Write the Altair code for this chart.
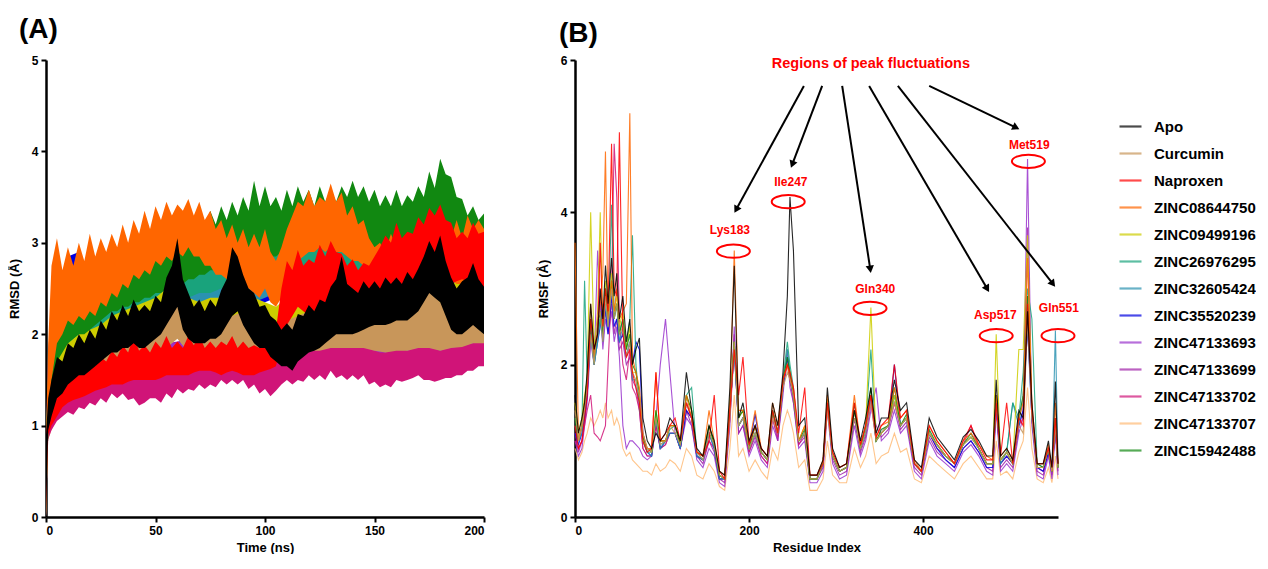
import math
import altair as alt
import pandas as pd

# ---------------- series names / colours ----------------
NAMES = ["Apo", "Curcumin", "Naproxen", "ZINC08644750", "ZINC09499196", "ZINC26976295",
         "ZINC32605424", "ZINC35520239", "ZINC47133693", "ZINC47133699", "ZINC47133702",
         "ZINC47133707", "ZINC15942488"]
COLORS = ["#000000", "#C8965A", "#FF0000", "#FF6600", "#CCCC00", "#19A37C",
          "#2A92B0", "#0000E0", "#9933CC", "#A020A8", "#D01478", "#FFBB77", "#118811"]

# ---------------- (A) RMSD: lower / upper envelope of each trace ----------------
# coarse time grid (5 ns) for the mostly hidden traces
T = [0, 1, 2.5, 5, 10, 15, 20, 25, 30, 35, 40, 45, 50, 55, 60, 65, 70, 75, 80, 85, 90, 95, 100,
     105, 110, 115, 120, 125, 130, 135, 140, 145, 150, 155, 160, 165, 170, 175, 180, 185, 190, 195, 200]
# fine time grid (2.5 ns) for the traces whose edges are visible
T2 = [0, 1, 2.5, 5, 7.5, 10, 12.5, 15, 17.5, 20, 22.5, 25, 27.5, 30, 32.5, 35, 37.5, 40, 42.5, 45, 47.5,
      50, 52.5, 55, 57.5, 60, 62.5, 65, 67.5, 70, 72.5, 75, 77.5, 80, 82.5, 85, 87.5, 90, 92.5, 95, 97.5,
      100, 102.5, 105, 107.5, 110, 112.5, 115, 117.5, 120, 122.5, 125, 127.5, 130, 132.5, 135, 137.5, 140, 142.5, 145, 147.5,
      150, 152.5, 155, 157.5, 160, 162.5, 165, 167.5, 170, 172.5, 175, 177.5, 180, 182.5, 185, 187.5, 190, 192.5, 195, 197.5, 200]

ORANGE_LO = [0, 1.0, 1.5, 1.9, 2.0, 2.15, 2.1, 2.2, 2.15, 2.25, 2.2, 2.35, 2.3, 2.45, 2.4, 2.55, 2.5, 2.65, 2.6, 2.7, 2.65,
             2.8, 2.75, 2.85, 2.8, 2.9, 2.85, 2.95, 2.85, 2.85, 2.75, 2.75, 2.65, 2.65, 2.6, 2.7, 2.6, 2.55, 2.5, 2.45, 2.4,
             2.5, 2.35, 2.3, 2.4, 2.6, 2.7, 2.8, 2.85, 2.9, 2.9, 2.95, 2.9, 2.95, 2.9, 2.9, 2.85, 2.8, 2.8, 2.75, 2.6,
             2.5, 2.5, 2.5, 2.55, 2.55, 2.5, 2.5, 2.55, 2.55, 2.5, 2.5, 2.55, 2.5, 2.6, 2.6, 2.55, 2.55, 2.6, 2.6, 2.55, 2.55]
ORANGE_HI = [0.9, 1.9, 2.75, 3.05, 2.7, 2.95, 2.75, 3.0, 2.8, 3.1, 2.85, 3.05, 2.9, 3.1, 2.95, 3.2, 3.0, 3.25, 3.1, 3.35, 3.15,
             3.4, 3.25, 3.45, 3.3, 3.42, 3.35, 3.48, 3.3, 3.45, 3.25, 3.35, 3.15, 3.25, 3.05, 3.2, 3.0, 3.15, 2.95, 3.1, 2.95,
             3.15, 2.9, 2.8, 2.95, 3.15, 3.3, 3.45, 3.4, 3.58, 3.4, 3.5, 3.45, 3.65, 3.45, 3.55, 3.3, 3.4, 3.2, 3.25, 3.05,
             2.95, 3.0, 2.9, 3.1, 2.95, 3.05, 2.9, 3.1, 2.95, 3.1, 3.0, 3.15, 2.95, 3.2, 3.05, 3.25, 3.05, 3.3, 3.15, 3.25, 3.15]
GREEN_LO = [0, 0.9, 1.4, 1.7, 1.8, 1.9, 1.95, 2.0, 2.0, 2.05, 2.1, 2.15, 2.2, 2.25, 2.25, 2.3, 2.3, 2.35, 2.35, 2.4, 2.4,
            2.45, 2.45, 2.5, 2.5, 2.55, 2.55, 2.6, 2.6, 2.65, 2.65, 2.7, 2.7, 2.75, 2.75, 2.8, 2.8, 2.8, 2.85, 2.85, 2.9,
            2.9, 2.85, 2.85, 2.9, 2.95, 3.0, 3.0, 2.95, 2.95, 3.0, 3.0, 2.95, 2.95, 3.0, 3.0, 3.05, 3.05, 3.0, 3.0, 2.95,
            2.95, 2.9, 2.9, 2.95, 2.95, 2.9, 2.9, 2.95, 3.0, 3.05, 3.1, 3.1, 3.15, 3.1, 3.05, 3.0, 2.95, 2.9, 2.9, 2.85, 2.85]
GREEN_HI = [0.9, 1.6, 2.0, 2.3, 2.35, 2.45, 2.4, 2.5, 2.45, 2.55, 2.6, 2.7, 2.65, 2.8, 2.75, 2.85, 2.8, 2.9, 2.85, 2.95, 2.9,
            3.05, 2.95, 3.1, 3.0, 3.15, 3.05, 3.2, 3.1, 3.25, 3.15, 3.35, 3.2, 3.4, 3.25, 3.45, 3.3, 3.5, 3.35, 3.68, 3.4,
            3.62, 3.4, 3.5, 3.35, 3.58, 3.4, 3.62, 3.45, 3.58, 3.4, 3.62, 3.45, 3.58, 3.45, 3.62, 3.5, 3.68, 3.5, 3.62, 3.45,
            3.58, 3.4, 3.52, 3.4, 3.58, 3.4, 3.52, 3.45, 3.62, 3.5, 3.78, 3.6, 3.92, 3.75, 3.72, 3.5, 3.48, 3.3, 3.4, 3.25, 3.32]
APO_LO = [0, 0.95, 1.1, 1.3, 1.35, 1.45, 1.5, 1.55, 1.55, 1.6, 1.65, 1.7, 1.75, 1.8, 1.8, 1.85, 1.85, 1.9, 1.85, 1.85, 1.9,
          1.95, 2.0, 2.1, 2.2, 2.3, 2.05, 1.95, 1.9, 1.9, 1.9, 1.95, 1.95, 2.0, 2.1, 2.2, 2.25, 2.1, 2.0, 1.9, 1.85,
          1.85, 1.75, 1.7, 1.65, 1.65, 1.6, 1.7, 1.75, 1.8, 1.82, 1.85, 1.9, 1.95, 2.0, 2.0, 2.0, 2.0, 2.02, 2.05, 2.08,
          2.1, 2.1, 2.1, 2.12, 2.15, 2.15, 2.15, 2.2, 2.25, 2.35, 2.45, 2.4, 2.35, 2.2, 2.05, 2.0, 2.0, 2.05, 2.1, 2.05, 2.0]
APO_HI = [0.9, 1.3, 1.5, 1.75, 1.7, 1.9, 1.85, 2.0, 1.9, 2.05, 1.95, 2.15, 2.05, 2.25, 2.15, 2.32, 2.2, 2.38, 2.25, 2.32, 2.25,
          2.42, 2.35, 2.62, 2.75, 3.05, 2.6, 2.45, 2.3, 2.38, 2.25, 2.38, 2.3, 2.48, 2.6, 2.95, 2.85, 2.65, 2.5, 2.45, 2.3,
          2.32, 2.2, 2.15, 2.05, 2.12, 2.05, 2.22, 2.2, 2.32, 2.25, 2.38, 2.35, 2.52, 2.6, 2.85, 2.55, 2.5, 2.45, 2.58, 2.5,
          2.58, 2.5, 2.62, 2.55, 2.62, 2.55, 2.68, 2.6, 2.72, 2.85, 3.02, 2.9, 3.08, 2.8, 2.62, 2.5, 2.58, 2.62, 2.78, 2.6, 2.52]
RED_LO = [0, 0.9, 1.0, 1.1, 1.2, 1.25, 1.28, 1.3, 1.32, 1.35, 1.38, 1.4, 1.42, 1.45, 1.45, 1.45, 1.48, 1.5, 1.5, 1.5, 1.5,
          1.5, 1.52, 1.55, 1.55, 1.55, 1.55, 1.55, 1.58, 1.6, 1.6, 1.6, 1.58, 1.55, 1.58, 1.6, 1.58, 1.55, 1.55, 1.55, 1.58,
          1.6, 1.62, 1.65, 1.9, 2.1, 2.2, 2.3, 2.25, 2.2, 2.25, 2.3, 2.28, 2.25, 2.3, 2.3, 2.32, 2.35, 2.32, 2.3, 2.35,
          2.4, 2.45, 2.5, 2.52, 2.55, 2.52, 2.5, 2.52, 2.55, 2.58, 2.6, 2.6, 2.6, 2.58, 2.55, 2.58, 2.6, 2.58, 2.55, 2.52, 2.5]
RED_HI = [0.9, 1.15, 1.3, 1.45, 1.5, 1.6, 1.55, 1.65, 1.6, 1.72, 1.65, 1.75, 1.7, 1.82, 1.75, 1.88, 1.8, 1.98, 1.82, 1.88, 1.8,
          1.92, 1.85, 1.98, 1.85, 1.92, 1.85, 1.98, 1.88, 1.98, 1.85, 1.92, 1.85, 1.92, 1.88, 1.98, 1.85, 1.92, 1.85, 1.88, 1.85,
          1.92, 1.9, 2.05, 2.5, 2.8, 2.7, 2.92, 2.75, 2.82, 2.78, 2.98, 2.85, 3.02, 2.9, 2.88, 2.75, 2.82, 2.7, 2.78, 2.75,
          2.85, 2.95, 3.08, 3.0, 3.22, 3.05, 3.12, 3.1, 3.28, 3.2, 3.38, 3.3, 3.42, 3.25, 3.22, 3.05, 3.12, 3.05, 3.22, 3.1, 3.12]
PINK_LO = [0, 0.85, 0.95, 1.05, 1.1, 1.15, 1.12, 1.2, 1.18, 1.25, 1.22, 1.3, 1.25, 1.35, 1.3, 1.35, 1.28, 1.3, 1.22, 1.25, 1.3,
           1.3, 1.25, 1.35, 1.3, 1.4, 1.35, 1.4, 1.38, 1.45, 1.4, 1.45, 1.42, 1.5, 1.45, 1.5, 1.45, 1.5, 1.4, 1.45, 1.35,
           1.4, 1.32, 1.38, 1.45, 1.5, 1.45, 1.5, 1.48, 1.55, 1.5, 1.55, 1.5, 1.6, 1.52, 1.55, 1.5, 1.55, 1.5, 1.55, 1.45,
           1.48, 1.42, 1.45, 1.42, 1.5, 1.48, 1.5, 1.52, 1.55, 1.5, 1.5, 1.48, 1.5, 1.52, 1.52, 1.55, 1.55, 1.6, 1.6, 1.65, 1.65]
PINK_HI = [0.85, 1.05, 1.2, 1.35, 1.4, 1.45, 1.48, 1.5, 1.52, 1.55, 1.58, 1.6, 1.6, 1.62, 1.65, 1.65, 1.65, 1.65, 1.6, 1.6, 1.62,
           1.65, 1.68, 1.7, 1.7, 1.7, 1.72, 1.75, 1.75, 1.75, 1.76, 1.78, 1.78, 1.8, 1.8, 1.8, 1.82, 1.85, 1.82, 1.8, 1.78,
           1.75, 1.72, 1.72, 1.75, 1.8, 1.8, 1.82, 1.84, 1.85, 1.85, 1.85, 1.86, 1.88, 1.88, 1.9, 1.88, 1.85, 1.86, 1.88, 1.85,
           1.82, 1.8, 1.8, 1.82, 1.85, 1.84, 1.82, 1.84, 1.85, 1.85, 1.85, 1.84, 1.82, 1.84, 1.85, 1.86, 1.88, 1.89, 1.9, 1.92, 1.95]

RMSD = {
    "ZINC08644750": (T2, ORANGE_LO, ORANGE_HI),
    "ZINC15942488": (T2, GREEN_LO, GREEN_HI),
    "Apo": (T2, APO_LO, APO_HI),
    "Naproxen": (T2, RED_LO, RED_HI),
    "ZINC47133702": (T2, PINK_LO, PINK_HI),
    "Curcumin": (T,
                 [0, 0.95, 1.1, 1.25, 1.4, 1.5, 1.55, 1.6, 1.65, 1.7, 1.7, 1.75, 1.8, 1.85, 1.95, 1.8, 1.8, 1.8, 1.8, 1.85, 1.85, 1.8, 1.75,
                  1.72, 1.78, 1.8, 1.82, 1.82, 1.85, 1.85, 1.85, 1.85, 1.82, 1.8, 1.82, 1.82, 1.85, 1.85, 1.82, 1.85, 1.86, 1.9, 1.9],
                 [0.9, 1.2, 1.4, 1.6, 1.75, 1.85, 1.9, 1.95, 2.0, 2.05, 2.1, 2.1, 2.15, 2.3, 2.4, 2.2, 2.15, 2.15, 2.1, 2.2, 2.25, 2.15, 2.1,
                  2.05, 2.15, 2.2, 2.25, 2.2, 2.3, 2.25, 2.3, 2.3, 2.35, 2.3, 2.35, 2.4, 2.5, 2.5, 2.35, 2.3, 2.35, 2.4, 2.3]),
    "ZINC47133693": (T,
                     [0, 0.9, 1.0, 1.1, 1.25, 1.3, 1.35, 1.4, 1.45, 1.5, 1.5, 1.5, 1.55, 1.55, 1.6, 1.6, 1.6, 1.62, 1.6, 1.62, 1.6, 1.6, 1.58,
                      1.6, 1.62, 1.65, 1.65, 1.68, 1.7, 1.68, 1.7, 1.7, 1.68, 1.65, 1.7, 1.7, 1.72, 1.7, 1.68, 1.7, 1.72, 1.75, 1.72],
                     [0.85, 1.1, 1.3, 1.4, 1.55, 1.6, 1.65, 1.7, 1.75, 1.8, 1.85, 1.8, 1.85, 1.9, 1.9, 1.92, 1.9, 1.95, 1.9, 1.95, 1.95, 1.92, 1.9,
                      1.9, 1.95, 1.95, 1.98, 2.0, 2.0, 2.0, 2.02, 2.0, 1.98, 1.95, 2.0, 2.02, 2.05, 2.0, 1.98, 2.0, 2.05, 2.05, 2.02]),
    "ZINC47133699": (T,
                     [0, 0.9, 1.0, 1.15, 1.3, 1.35, 1.4, 1.45, 1.5, 1.5, 1.55, 1.52, 1.55, 1.6, 1.6, 1.62, 1.6, 1.6, 1.62, 1.65, 1.62, 1.6, 1.6,
                      1.58, 1.62, 1.65, 1.68, 1.65, 1.7, 1.7, 1.72, 1.7, 1.68, 1.68, 1.7, 1.72, 1.75, 1.72, 1.7, 1.72, 1.75, 1.75, 1.72],
                     [0.85, 1.15, 1.3, 1.45, 1.6, 1.65, 1.7, 1.75, 1.8, 1.82, 1.85, 1.85, 1.88, 1.9, 1.92, 1.95, 1.92, 1.9, 1.95, 1.98, 1.95, 1.92, 1.9,
                      1.88, 1.92, 1.98, 2.0, 1.98, 2.02, 2.0, 2.05, 2.02, 2.0, 1.98, 2.02, 2.05, 2.05, 2.02, 2.0, 2.02, 2.05, 2.08, 2.05]),
    "ZINC47133707": (T,
                     [0, 0.85, 0.95, 1.1, 1.25, 1.3, 1.35, 1.4, 1.45, 1.45, 1.5, 1.48, 1.5, 1.55, 1.55, 1.58, 1.58, 1.6, 1.6, 1.6, 1.6, 1.58, 1.55,
                      1.55, 1.6, 1.62, 1.65, 1.65, 1.68, 1.65, 1.68, 1.68, 1.65, 1.62, 1.65, 1.68, 1.7, 1.68, 1.65, 1.68, 1.7, 1.72, 1.7],
                     [0.8, 1.1, 1.25, 1.4, 1.55, 1.6, 1.65, 1.7, 1.75, 1.78, 1.8, 1.8, 1.82, 1.85, 1.88, 1.9, 1.9, 1.9, 1.92, 1.92, 1.95, 1.9, 1.88,
                      1.85, 1.9, 1.92, 1.95, 1.95, 1.98, 1.98, 2.0, 1.98, 1.95, 1.95, 1.98, 2.0, 2.0, 1.98, 1.95, 1.98, 2.0, 2.02, 2.0]),
    "ZINC35520239": (T,
                     [0, 1.0, 1.6, 1.9, 2.1, 2.2, 2.15, 2.2, 2.2, 2.2, 2.25, 2.3, 2.3, 2.3, 2.35, 2.3, 2.3, 2.3, 2.3, 2.3, 2.3, 2.25, 2.35,
                      2.4, 2.35, 2.4, 2.35, 2.3, 2.3, 2.3, 2.3, 2.3, 2.3, 2.3, 2.35, 2.35, 2.3, 2.3, 2.35, 2.35, 2.35, 2.35, 2.3],
                     [0.9, 1.8, 2.3, 2.5, 2.85, 2.9, 2.6, 2.6, 2.65, 2.65, 2.7, 2.7, 2.7, 2.75, 2.75, 2.7, 2.7, 2.65, 2.7, 2.7, 2.65, 2.65, 2.65,
                      2.75, 2.7, 2.75, 2.7, 2.65, 2.6, 2.6, 2.6, 2.6, 2.6, 2.6, 2.65, 2.65, 2.6, 2.6, 2.65, 2.7, 2.75, 2.7, 2.6]),
    "ZINC26976295": (T,
                     [0, 0.9, 1.3, 1.6, 1.8, 1.9, 1.95, 2.0, 2.1, 2.2, 2.25, 2.3, 2.35, 2.35, 2.4, 2.4, 2.45, 2.45, 2.5, 2.5, 2.55, 2.6, 2.65,
                      2.6, 2.65, 2.65, 2.6, 2.6, 2.65, 2.7, 2.7, 2.65, 2.6, 2.6, 2.6, 2.6, 2.65, 2.6, 2.6, 2.6, 2.55, 2.6, 2.55],
                     [0.9, 1.6, 2.0, 2.2, 2.3, 2.4, 2.45, 2.5, 2.55, 2.65, 2.7, 2.75, 2.75, 2.8, 2.8, 2.85, 2.85, 2.85, 2.9, 2.9, 2.95, 3.0, 3.05,
                      3.0, 3.05, 3.05, 3.0, 3.0, 3.05, 3.1, 3.05, 3.0, 2.95, 2.95, 2.95, 3.0, 3.05, 3.0, 3.0, 2.95, 2.9, 2.95, 2.9]),
    "ZINC32605424": (T,
                     [0, 0.9, 1.3, 1.5, 1.7, 1.8, 1.9, 1.95, 2.0, 2.1, 2.15, 2.25, 2.3, 2.35, 2.3, 2.25, 2.25, 2.2, 2.25, 2.3, 2.3, 2.35, 2.4,
                      2.45, 2.5, 2.55, 2.6, 2.55, 2.5, 2.45, 2.5, 2.5, 2.45, 2.45, 2.5, 2.45, 2.5, 2.45, 2.5, 2.45, 2.5, 2.45, 2.45],
                     [0.9, 1.5, 1.9, 2.1, 2.2, 2.3, 2.35, 2.4, 2.45, 2.5, 2.6, 2.7, 2.75, 2.8, 2.75, 2.7, 2.65, 2.65, 2.7, 2.7, 2.75, 2.75, 2.8,
                      2.85, 2.9, 2.95, 2.95, 2.9, 2.85, 2.8, 2.85, 2.85, 2.8, 2.8, 2.85, 2.8, 2.85, 2.8, 2.85, 2.8, 2.85, 2.8, 2.75]),
    "ZINC09499196": (T,
                     [0, 0.9, 1.1, 1.3, 1.5, 1.6, 1.65, 1.7, 1.8, 1.85, 1.9, 1.95, 2.0, 2.05, 2.1, 2.0, 2.0, 2.0, 2.05, 2.05, 2.1, 2.05, 2.0,
                      2.0, 2.05, 2.1, 2.1, 2.1, 2.15, 2.1, 2.15, 2.15, 2.2, 2.2, 2.2, 2.2, 2.25, 2.25, 2.2, 2.2, 2.25, 2.2, 2.15],
                     [0.9, 1.3, 1.55, 1.75, 1.9, 2.0, 2.05, 2.1, 2.2, 2.25, 2.3, 2.35, 2.4, 2.5, 2.5, 2.4, 2.35, 2.4, 2.4, 2.45, 2.45, 2.4, 2.35,
                      2.3, 2.4, 2.45, 2.45, 2.45, 2.5, 2.5, 2.5, 2.5, 2.55, 2.55, 2.6, 2.55, 2.6, 2.6, 2.55, 2.55, 2.6, 2.55, 2.5]),
}
ORDER_A = ["ZINC47133707", "ZINC47133699", "ZINC47133693", "ZINC47133702", "ZINC35520239",
           "ZINC32605424", "ZINC26976295", "ZINC09499196", "ZINC15942488", "ZINC08644750",
           "Curcumin", "Naproxen", "Apo"]

# ---------------- (B) RMSF per residue ----------------
RES = [0, 4, 8, 11, 14, 18, 22, 26, 29, 32, 35, 38, 42, 45, 48, 51, 55, 59, 63, 66,
       70, 74, 78, 83, 88, 93, 98, 104, 109, 115, 121, 128, 134, 140, 147, 154, 160, 166, 172, 178,
       183, 188, 193, 200, 207, 214, 221, 227, 233, 239, 244, 247, 251, 257, 264, 270, 278, 285, 290, 296,
       304, 312, 321, 328, 334, 340, 346, 352, 360, 367, 374, 381, 390, 398, 407, 416, 426, 436, 446, 455,
       464, 473, 480, 484, 489, 496, 503, 510, 515, 520, 525, 531, 538, 544, 548, 552, 555]

RMSF = {
    "Apo": [1.6, 1.1, 1.3, 1.5, 1.9, 2.8, 2.2, 2.4, 3.0, 2.6, 3.3, 2.8, 3.4, 2.9, 3.2, 2.6, 2.9, 2.3, 2.6, 2.0,
            2.2, 2.35, 1.3, 1.0, 0.9, 1.1, 1.0, 1.1, 1.3, 1.2, 1.0, 1.9, 1.4, 0.9, 0.8, 1.2, 1.0, 0.6, 0.55, 1.7,
            3.3, 1.3, 1.5, 1.0, 1.2, 0.9, 0.8, 1.5, 1.2, 1.9, 2.9, 4.2, 3.5, 1.2, 1.3, 0.55, 0.55, 0.75, 1.7, 0.9,
            0.65, 0.7, 1.4, 1.0, 1.3, 1.7, 1.1, 1.3, 1.3, 1.8, 1.4, 1.5, 0.75, 0.65, 1.3, 1.05, 0.9, 0.75, 1.05, 1.15,
            1.0, 0.8, 0.8, 1.8, 0.8, 0.9, 0.75, 1.4, 1.3, 2.7, 1.5, 0.7, 0.7, 1.0, 0.65, 1.78, 0.7],
    "Curcumin": [1.4, 1.0, 1.2, 1.4, 1.7, 2.4, 2.0, 2.6, 2.7, 2.3, 2.9, 2.5, 3.0, 2.6, 2.8, 2.4, 2.5, 2.1, 2.3, 1.9,
                 1.8, 1.6, 1.1, 0.9, 0.85, 1.3, 0.95, 1.0, 1.2, 1.1, 0.95, 1.5, 1.3, 0.85, 0.75, 1.1, 0.95, 0.55, 0.5, 1.3,
                 2.3, 1.2, 1.3, 0.9, 1.1, 0.85, 0.75, 1.3, 1.1, 1.7, 1.9, 1.8, 1.6, 1.0, 1.1, 0.5, 0.5, 0.7, 1.4, 0.8,
                 0.6, 0.65, 1.3, 0.9, 1.1, 1.5, 1.0, 1.1, 1.2, 1.5, 1.2, 1.3, 0.7, 0.6, 1.1, 0.95, 0.8, 0.7, 0.95, 1.05,
                 0.9, 0.7, 0.7, 1.5, 0.75, 0.85, 0.7, 1.2, 1.1, 2.6, 1.3, 0.65, 0.65, 0.9, 0.6, 1.2, 0.65],
    "Naproxen": [1.2, 0.9, 1.0, 1.3, 1.6, 2.6, 2.2, 2.4, 3.6, 2.5, 3.0, 2.7, 4.9, 3.0, 2.9, 5.05, 2.4, 2.1, 2.2, 1.9,
                 1.7, 1.5, 1.0, 0.85, 0.9, 1.9, 1.0, 1.1, 1.2, 1.3, 1.0, 1.5, 1.3, 0.85, 0.8, 1.0, 1.6, 0.6, 0.5, 1.4,
                 2.2, 1.6, 2.1, 0.95, 1.2, 0.9, 0.8, 1.4, 1.1, 1.8, 2.0, 1.9, 1.7, 1.1, 1.7, 0.55, 0.55, 0.7, 1.5, 0.85,
                 0.65, 0.7, 1.5, 0.95, 1.2, 1.6, 1.05, 1.2, 1.3, 2.0, 1.3, 1.4, 0.7, 0.6, 1.2, 1.0, 0.85, 0.7, 1.0, 1.2,
                 0.95, 0.75, 0.75, 1.5, 0.8, 1.5, 0.7, 1.3, 1.2, 2.8, 1.4, 0.7, 0.7, 0.9, 0.65, 1.3, 0.7],
    "ZINC08644750": [3.6, 1.0, 1.2, 1.5, 1.8, 2.8, 2.1, 2.5, 2.8, 3.2, 4.8, 2.6, 3.1, 2.7, 3.0, 2.6, 2.7, 2.8, 5.3, 2.1,
                     1.9, 1.7, 1.1, 0.9, 0.9, 1.9, 1.0, 1.0, 1.2, 1.2, 1.0, 1.6, 1.3, 0.85, 0.8, 1.4, 1.0, 0.6, 0.55, 1.5,
                     3.5, 1.4, 1.4, 0.95, 1.4, 0.9, 0.8, 1.5, 1.2, 1.8, 2.0, 1.8, 1.7, 1.0, 1.2, 0.55, 0.55, 0.75, 1.6, 0.85,
                     0.65, 0.7, 1.6, 0.95, 1.2, 1.6, 1.05, 1.2, 1.25, 1.7, 1.3, 1.4, 0.75, 0.6, 1.2, 1.0, 0.85, 0.7, 1.0, 1.1,
                     0.95, 0.8, 0.75, 1.6, 0.8, 0.9, 0.75, 1.3, 1.5, 3.4, 1.5, 0.7, 0.7, 0.95, 0.6, 1.5, 0.7],
    "ZINC09499196": [1.5, 1.1, 1.3, 1.6, 1.8, 4.0, 2.2, 2.7, 4.0, 2.5, 3.1, 2.6, 3.2, 2.7, 2.9, 2.5, 2.7, 2.2, 2.5, 1.9,
                     1.9, 1.6, 1.0, 0.9, 0.85, 1.4, 1.0, 1.0, 1.2, 1.2, 0.95, 1.6, 1.4, 0.85, 0.8, 1.2, 0.95, 0.55, 0.5, 1.5,
                     2.3, 1.3, 1.4, 0.9, 1.2, 0.85, 0.75, 1.4, 1.1, 1.8, 2.0, 1.9, 1.6, 1.0, 1.2, 0.5, 0.5, 0.7, 1.5, 0.8,
                     0.6, 0.65, 1.4, 0.9, 1.2, 2.75, 1.0, 1.1, 1.2, 1.6, 1.2, 1.3, 0.7, 0.6, 1.1, 0.95, 0.8, 0.7, 0.95, 1.05,
                     0.9, 0.7, 0.7, 2.4, 0.75, 0.85, 0.7, 2.2, 2.2, 3.7, 1.4, 0.65, 0.65, 0.9, 0.6, 1.3, 0.65],
    "ZINC26976295": [1.3, 1.0, 1.2, 3.1, 1.8, 2.5, 2.0, 2.4, 2.6, 2.4, 3.0, 2.5, 4.1, 2.7, 2.8, 2.4, 2.6, 2.2, 2.6, 3.7,
                     2.0, 1.5, 1.0, 0.85, 0.85, 1.3, 0.95, 1.0, 1.15, 1.2, 0.95, 1.6, 1.7, 0.85, 0.75, 1.1, 0.95, 0.55, 0.5, 1.4,
                     2.3, 1.2, 1.3, 0.9, 1.1, 0.85, 0.75, 1.4, 1.1, 1.8, 2.3, 2.0, 1.7, 1.0, 1.1, 0.5, 0.5, 0.7, 1.5, 0.8,
                     0.6, 0.65, 1.4, 0.9, 1.2, 2.2, 1.0, 1.1, 1.2, 1.6, 1.2, 1.3, 0.7, 0.6, 1.1, 0.95, 0.8, 0.7, 0.95, 1.05,
                     0.9, 0.7, 0.7, 1.6, 0.75, 0.85, 1.5, 1.3, 1.9, 3.0, 2.6, 0.7, 0.65, 0.9, 0.6, 1.3, 0.65],
    "ZINC32605424": [1.2, 1.0, 1.1, 1.4, 1.7, 2.4, 2.0, 2.3, 2.6, 2.3, 2.8, 2.5, 3.0, 2.6, 2.8, 2.3, 2.5, 2.1, 2.3, 1.8,
                     1.8, 1.5, 1.0, 0.85, 0.8, 1.3, 0.9, 1.0, 1.1, 1.1, 0.9, 1.5, 1.3, 0.8, 0.75, 1.1, 0.9, 0.5, 0.5, 1.4,
                     2.2, 1.2, 1.3, 0.9, 1.1, 0.85, 0.75, 1.4, 1.1, 1.7, 2.2, 1.9, 1.6, 1.0, 1.1, 0.5, 0.5, 0.7, 1.5, 0.8,
                     0.6, 0.65, 1.4, 0.9, 1.1, 1.6, 1.0, 1.1, 1.2, 1.6, 1.2, 1.3, 0.7, 0.6, 1.1, 0.95, 0.8, 0.7, 0.95, 1.05,
                     0.9, 0.7, 0.7, 1.6, 0.7, 0.85, 1.5, 1.2, 1.6, 2.6, 1.3, 0.65, 0.65, 0.9, 0.6, 2.45, 0.7],
    "ZINC35520239": [1.1, 0.95, 1.1, 1.3, 1.6, 2.5, 2.0, 2.3, 2.5, 2.8, 2.7, 2.4, 2.9, 2.5, 2.6, 2.3, 2.4, 2.1, 2.3, 2.0,
                     2.3, 2.2, 1.1, 0.85, 0.8, 1.3, 0.9, 1.0, 1.1, 1.1, 0.9, 1.4, 1.3, 0.8, 0.75, 1.1, 0.9, 0.5, 0.5, 1.4,
                     2.2, 1.2, 1.3, 0.9, 1.35, 0.85, 0.75, 1.4, 1.1, 1.7, 2.1, 1.8, 1.6, 1.0, 1.1, 0.5, 0.5, 0.7, 1.5, 0.8,
                     0.6, 0.65, 1.3, 0.9, 1.1, 1.6, 1.0, 1.1, 1.2, 2.0, 1.2, 1.3, 0.7, 0.6, 1.1, 0.9, 0.75, 0.65, 0.9, 1.0,
                     0.85, 0.65, 0.65, 1.5, 0.7, 0.8, 0.7, 1.2, 1.4, 2.5, 1.3, 0.65, 0.6, 0.85, 0.6, 1.2, 0.65],
    "ZINC47133693": [1.0, 0.8, 0.9, 1.2, 1.5, 2.3, 2.0, 3.5, 2.8, 2.2, 2.6, 2.4, 2.7, 2.3, 2.5, 2.1, 1.2, 0.9, 1.0, 1.0,
                     0.95, 0.9, 0.8, 0.75, 0.8, 1.3, 2.0, 2.6, 1.9, 1.1, 0.9, 1.3, 1.2, 0.75, 0.65, 0.9, 0.8, 0.45, 0.4, 1.2,
                     2.5, 1.1, 1.2, 0.8, 1.0, 0.75, 0.65, 1.2, 1.0, 1.6, 2.2, 1.7, 1.5, 0.9, 1.0, 0.45, 0.45, 0.6, 1.4, 0.7,
                     0.5, 0.55, 1.2, 0.8, 1.0, 1.4, 1.7, 1.0, 1.1, 1.4, 1.1, 1.2, 0.6, 0.5, 1.0, 0.8, 0.7, 0.6, 0.85, 0.95,
                     0.8, 0.6, 0.55, 1.4, 0.6, 0.7, 0.6, 1.1, 1.3, 4.7, 1.2, 0.55, 0.5, 0.8, 0.5, 1.1, 0.55],
    "ZINC47133699": [1.1, 0.85, 1.0, 1.3, 1.6, 2.4, 2.1, 2.5, 2.9, 2.3, 2.7, 2.5, 2.8, 2.4, 2.6, 2.2, 2.3, 2.0, 2.1, 1.8,
                     1.7, 1.4, 0.9, 0.8, 0.8, 1.2, 0.9, 0.95, 1.1, 1.1, 0.9, 1.4, 1.2, 0.8, 0.7, 1.0, 0.85, 0.5, 0.45, 1.3,
                     2.4, 1.1, 1.2, 0.85, 1.05, 0.8, 0.7, 1.3, 1.0, 1.7, 2.1, 1.8, 1.5, 0.95, 1.05, 0.5, 0.5, 0.65, 1.5, 0.75,
                     0.55, 0.6, 1.3, 0.85, 1.05, 1.5, 1.2, 1.05, 1.15, 1.5, 1.15, 1.25, 0.65, 0.55, 1.05, 0.85, 0.75, 0.65, 0.9, 1.0,
                     0.85, 0.65, 0.6, 1.5, 0.65, 0.75, 0.65, 1.2, 1.4, 3.8, 1.3, 0.6, 0.55, 0.85, 0.55, 1.2, 0.6],
    "ZINC47133702": [1.0, 0.9, 1.0, 1.2, 1.4, 1.6, 1.1, 1.05, 1.0, 1.1, 1.2, 2.0, 3.0, 4.9, 4.2, 2.6, 2.0, 1.8, 2.2, 1.7,
                     1.6, 1.4, 0.9, 0.8, 0.8, 1.2, 0.9, 0.95, 1.1, 1.1, 0.9, 1.4, 1.3, 0.8, 0.75, 1.0, 0.9, 0.5, 0.5, 1.3,
                     2.2, 1.2, 1.3, 0.85, 1.1, 0.8, 0.7, 1.3, 1.05, 1.7, 2.0, 1.8, 1.6, 0.95, 1.1, 0.5, 0.5, 0.7, 1.45, 0.8,
                     0.6, 0.65, 1.3, 0.9, 1.1, 1.5, 1.0, 1.1, 1.2, 1.5, 1.2, 1.3, 0.7, 0.6, 1.1, 0.9, 0.8, 0.7, 0.95, 1.2,
                     0.9, 0.7, 0.7, 1.5, 0.7, 0.8, 0.7, 1.2, 1.3, 2.9, 1.3, 0.65, 0.6, 0.9, 0.6, 1.2, 0.65],
    "ZINC47133707": [0.9, 0.75, 0.85, 1.0, 1.1, 1.3, 1.2, 1.3, 1.4, 1.3, 1.5, 1.3, 1.4, 1.2, 1.3, 1.2, 0.9, 0.8, 0.85, 0.75,
                     0.7, 0.65, 0.6, 0.6, 0.55, 0.7, 0.6, 0.65, 0.75, 0.7, 0.6, 0.9, 0.8, 0.55, 0.5, 0.7, 0.6, 0.4, 0.35, 0.9,
                     1.6, 0.8, 0.9, 0.6, 0.75, 0.6, 0.5, 0.9, 0.75, 1.2, 1.4, 1.3, 1.1, 0.65, 0.75, 0.35, 0.35, 0.5, 1.0, 0.55,
                     0.45, 0.45, 0.9, 0.65, 0.8, 1.1, 0.7, 0.8, 0.85, 1.1, 0.85, 0.9, 0.5, 0.45, 0.8, 0.7, 0.6, 0.5, 0.7, 0.8,
                     0.65, 0.5, 0.5, 1.0, 0.55, 0.6, 0.5, 0.85, 1.0, 1.7, 0.9, 0.5, 0.45, 0.65, 0.45, 0.8, 0.5],
    "ZINC15942488": [1.3, 1.0, 1.2, 1.5, 1.8, 2.6, 2.1, 2.5, 2.7, 2.4, 3.0, 2.6, 3.1, 2.6, 2.8, 2.4, 2.6, 2.2, 2.4, 2.0,
                     1.9, 1.6, 1.05, 0.9, 0.85, 1.4, 1.0, 1.0, 1.2, 1.2, 0.95, 1.6, 1.4, 0.85, 0.8, 1.2, 0.95, 0.55, 0.5, 1.5,
                     2.3, 1.3, 1.4, 0.9, 1.2, 0.85, 0.75, 1.4, 1.1, 1.8, 2.1, 1.9, 1.6, 1.0, 1.15, 0.5, 0.5, 0.7, 1.55, 0.8,
                     0.6, 0.65, 1.5, 0.9, 1.2, 1.7, 1.0, 1.15, 1.2, 1.7, 1.2, 1.35, 0.7, 0.6, 1.15, 0.95, 0.8, 0.7, 0.95, 1.1,
                     0.9, 0.7, 0.7, 1.6, 0.75, 0.85, 0.7, 1.3, 1.6, 2.9, 1.4, 0.7, 0.65, 0.9, 0.6, 1.3, 0.65],
}
ORDER_B = ["ZINC47133707", "ZINC47133693", "ZINC47133699", "ZINC47133702", "ZINC35520239",
           "ZINC32605424", "ZINC26976295", "ZINC09499196", "ZINC15942488", "ZINC08644750",
           "Curcumin", "Naproxen", "Apo"]

# ---------------- annotations in panel (B) (data units) ----------------
ANN_TITLE = "Regions of peak fluctuations"
ANN_TITLE_POS = (340, 5.95)
ARROW_START = [(263, 5.66), (284, 5.66), (307, 5.66), (338, 5.66), (371, 5.66), (407, 5.66)]
ARROW_END = [(183, 3.99), (248, 4.58), (340, 3.20), (476, 2.95), (552, 3.02), (511, 5.09)]
PEAK_LABELS = ["Lys183", "Ile247", "Gln340", "Asp517", "Gln551", "Met519"]
PEAK_LABEL_POS = [(178, 3.77), (248, 4.40), (345, 2.99), (483, 2.65), (556, 2.74), (522, 4.88)]
PEAK_RING_POS = [(182, 3.49), (245, 4.14), (339, 2.74), (484, 2.38), (555, 2.38), (521, 4.67)]

# ---------------- layout ----------------
FONT = "Liberation Sans"
WA, WB, H = 438, 483, 457
XMAX_B = 555

dfA = pd.DataFrame([
    {"series": s, "t": t, "lo": lo, "hi": hi}
    for s in ORDER_A for t, lo, hi in zip(*RMSD[s])
])
dfB = pd.DataFrame([
    {"series": s, "r": r, "v": v}
    for s in ORDER_B for r, v in zip(RES, RMSF[s])
])

legend = alt.Legend(title=None, orient="none", legendX=1072, legendY=54,
                    symbolType="stroke", symbolSize=484, symbolStrokeWidth=2.2,
                    symbolOpacity=0.7, labelFont=FONT, labelFontSize=15,
                    labelFontWeight="bold", labelColor="black", rowPadding=6,
                    labelOffset=11, padding=0)
color = alt.Color("series:N", scale=alt.Scale(domain=NAMES, range=COLORS), legend=legend)

xA = alt.X("t:Q", scale=alt.Scale(domain=[0, 200], nice=False),
           axis=alt.Axis(values=[0, 50, 100, 150, 200], title="Time (ns)", titlePadding=5))
yA = alt.Y("lo:Q", scale=alt.Scale(domain=[0, 5], nice=False),
           axis=alt.Axis(values=[0, 1, 2, 3, 4, 5], format="d", title="RMSD (Å)"))

baseA = alt.Chart(dfA)
layersA = [
    baseA.transform_filter(alt.datum.series == s).mark_area(opacity=1, interpolate="linear")
    .encode(x=xA, y=yA, y2="hi:Q", color=color)
    for s in ORDER_A
]
panelA = alt.layer(*layersA).properties(
    width=WA, height=H,
    title=alt.TitleParams("(A)", anchor="start", frame="group", dx=-27, fontSize=28,
                          font=FONT, fontWeight="bold", color="black", offset=10),
)

xB = alt.X("r:Q", scale=alt.Scale(domain=[0, XMAX_B], nice=False),
           axis=alt.Axis(values=[0, 200, 400], title="Residue Index", titlePadding=5))
yB = alt.Y("v:Q", scale=alt.Scale(domain=[0, 6], nice=False),
           axis=alt.Axis(values=[0, 2, 4, 6], format="d", title="RMSF (Å)"))

baseB = alt.Chart(dfB)
layersB = [
    baseB.transform_filter(alt.datum.series == s).mark_line(strokeWidth=1.1, opacity=0.85)
    .encode(x=xB, y=yB, color=color)
    for s in ORDER_B
]

# arrows
KX = WB / XMAX_B
KY = H / 6.0
arrow_rows, head_rows = [], []
for (x1, y1), (x2, y2) in zip(ARROW_START, ARROW_END):
    dxp = (x2 - x1) * KX
    dyp = -(y2 - y1) * KY
    L = math.hypot(dxp, dyp)
    ux, uy = dxp / L, dyp / L
    ang = math.degrees(math.atan2(dxp, -dyp)) % 360
    hx = x2 - 4 * ux / KX
    hy = y2 + 4 * uy / KY
    arrow_rows.append({"x": x1, "y": y1, "x2": hx, "y2": hy})
    head_rows.append({"x": hx, "y": hy, "ang": ang})
df_arrow = pd.DataFrame(arrow_rows)
df_head = pd.DataFrame(head_rows)
df_lab = pd.DataFrame({"x": [p[0] for p in PEAK_LABEL_POS], "y": [p[1] for p in PEAK_LABEL_POS],
                       "label": PEAK_LABELS})
df_ring = pd.DataFrame({"x": [p[0] for p in PEAK_RING_POS], "y": [p[1] for p in PEAK_RING_POS]})
df_title = pd.DataFrame({"x": [ANN_TITLE_POS[0]], "y": [ANN_TITLE_POS[1]], "label": [ANN_TITLE]})

sx = alt.Scale(domain=[0, XMAX_B], nice=False)
sy = alt.Scale(domain=[0, 6], nice=False)

shafts = alt.Chart(df_arrow).mark_rule(color="black", strokeWidth=2).encode(
    x=alt.X("x:Q", scale=sx), y=alt.Y("y:Q", scale=sy), x2="x2:Q", y2="y2:Q")
heads = alt.Chart(df_head).mark_point(shape="triangle-up", filled=True, color="black",
                                      size=70, opacity=1).encode(
    x=alt.X("x:Q", scale=sx), y=alt.Y("y:Q", scale=sy), angle=alt.Angle("ang:Q", scale=None))
labels = alt.Chart(df_lab).mark_text(color="#FF0000", font=FONT, fontSize=12, fontWeight="bold",
                                     align="center", baseline="middle").encode(
    x=alt.X("x:Q", scale=sx), y=alt.Y("y:Q", scale=sy), text="label:N")
ann_title = alt.Chart(df_title).mark_text(color="#FF0000", font=FONT, fontSize=14.5, fontWeight="bold",
                                          align="center", baseline="middle").encode(
    x=alt.X("x:Q", scale=sx), y=alt.Y("y:Q", scale=sy), text="label:N")
RING = "M-1,0A1,0.4,0,1,1,1,0A1,0.4,0,1,1,-1,0Z"
rings = alt.Chart(df_ring).mark_point(shape=RING, filled=False, color="#FF0000", strokeWidth=2,
                                      size=1089, opacity=1).encode(
    x=alt.X("x:Q", scale=sx), y=alt.Y("y:Q", scale=sy))

panelB = alt.layer(*layersB, shafts, heads, rings, labels, ann_title).properties(
    width=WB, height=H,
    title=alt.TitleParams("(B)", anchor="start", frame="group", dx=-16, fontSize=28,
                          font=FONT, fontWeight="bold", color="black", offset=6),
)

chart = alt.hconcat(panelA, panelB, spacing=52).properties(
    padding={"left": 0, "top": 8, "right": 0, "bottom": 0}
).configure_view(stroke=None).configure_axis(
    domainColor="black", domainWidth=2.5, tickColor="black", tickWidth=2, tickSize=5,
    labelFont=FONT, labelFontSize=12, labelFontWeight="bold", labelColor="black", labelPadding=3,
    titleFont=FONT, titleFontSize=13, titleFontWeight="bold", titleColor="black", titlePadding=10,
    grid=False,
)

chart.save("out.html", embed_options={"renderer": "svg", "actions": False})
